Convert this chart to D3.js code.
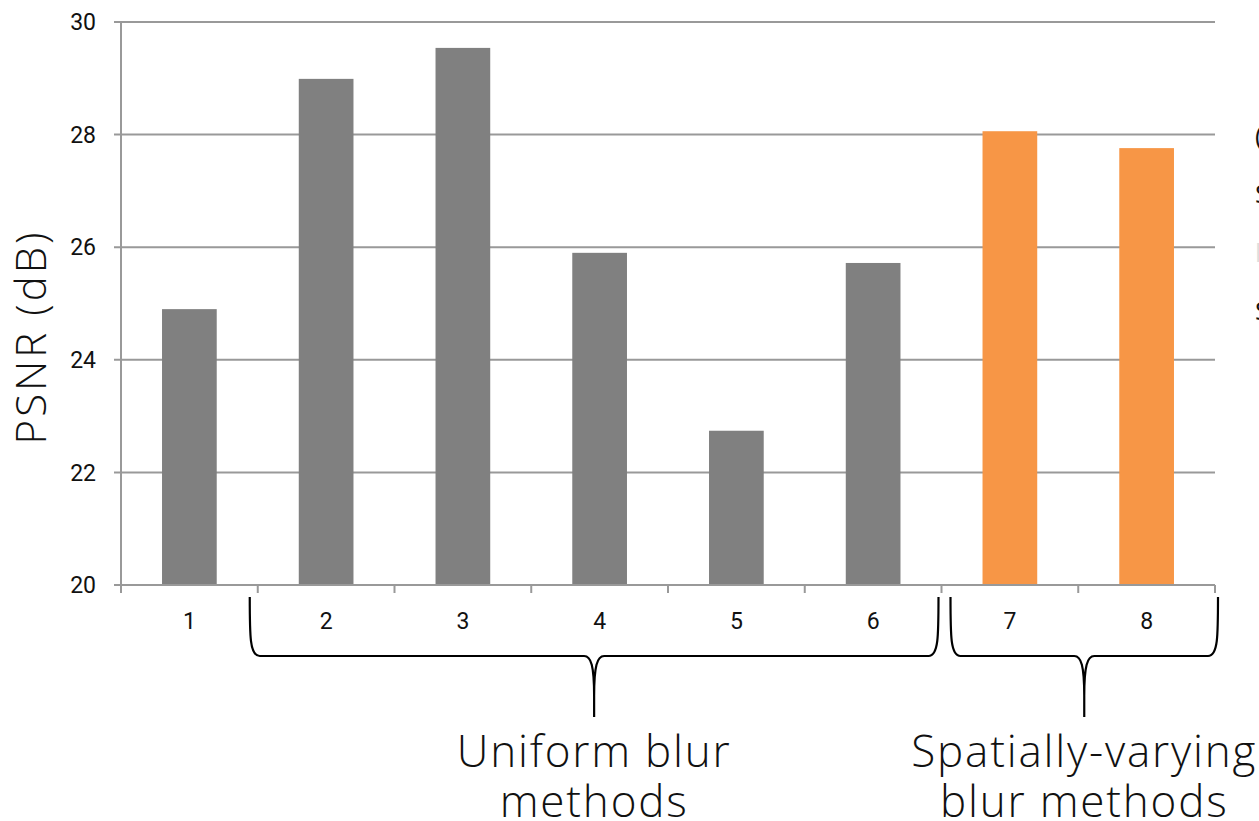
<!DOCTYPE html>
<html>
<head>
<meta charset="utf-8">
<script src="https://cdn.jsdelivr.net/npm/d3@7/dist/d3.min.js"></script>
<style>
  html, body { margin: 0; padding: 0; background: #fff; }
  svg { display: block; }
</style>
</head>
<body>
<svg id="chart" width="1259" height="821"></svg>
<script>
const categories = ["1", "2", "3", "4", "5", "6", "7", "8"];
const psnr = [24.90, 28.99, 29.54, 25.90, 22.74, 25.72, 28.06, 27.76];
const groups = ["uniform", "uniform", "uniform", "uniform", "uniform", "uniform", "varying", "varying"];
const yTicks = [20, 22, 24, 26, 28, 30];
const yLabel = "PSNR (dB)";
const braceGroups = [
  { from: "2", to: "6", lines: ["Uniform blur", "methods"] },
  { from: "7", to: "8", lines: ["Spatially-varying", "blur methods"] }
];
const edgeText = ["(", "S", "l", "S"];

const svg = d3.select("#chart");
const m = { left: 121, right: 1215, top: 22, bottom: 585 };

const x = d3.scaleBand().domain(categories).range([m.left, m.right]).paddingInner(0.6).paddingOuter(0.3);
const xb = d3.scaleBand().domain(categories).range([m.left, m.right]);
const y = d3.scaleLinear().domain([20, 30]).range([m.bottom, m.top]);
const color = d3.scaleOrdinal().domain(["uniform", "varying"]).range(["#808080", "#F79646"]);

// gridlines
svg.append("g").selectAll("line").data(yTicks).join("line")
  .attr("x1", m.left - 7).attr("x2", m.right)
  .attr("y1", d => y(d)).attr("y2", d => y(d))
  .attr("stroke", "#999").attr("stroke-width", 2);

// bars
svg.append("g").selectAll("rect").data(categories).join("rect")
  .attr("x", d => x(d)).attr("width", x.bandwidth())
  .attr("y", (d, i) => y(psnr[i])).attr("height", (d, i) => y(20) - y(psnr[i]))
  .attr("fill", (d, i) => color(groups[i]));

// y axis line
svg.append("line").attr("x1", m.left).attr("x2", m.left)
  .attr("y1", m.top).attr("y2", m.bottom + 8)
  .attr("stroke", "#999").attr("stroke-width", 2);
// x axis line
svg.append("line").attr("x1", m.left - 7).attr("x2", m.right)
  .attr("y1", m.bottom).attr("y2", m.bottom)
  .attr("stroke", "#999").attr("stroke-width", 2);
// x ticks at band boundaries
const bounds = categories.map(c => xb(c)).concat([m.right]);
svg.append("g").selectAll("line").data(bounds).join("line")
  .attr("x1", d => d).attr("x2", d => d)
  .attr("y1", m.bottom).attr("y2", m.bottom + 8)
  .attr("stroke", "#999").attr("stroke-width", 2);

// y tick labels
svg.append("g").selectAll("text").data(yTicks).join("text")
  .attr("x", 96).attr("y", d => y(d)).attr("dy", "0.36em")
  .attr("text-anchor", "end")
  .attr("font-family", "Roboto, sans-serif").attr("font-size", 23).attr("fill", "#111")
  .text(d => d);

// x tick labels
svg.append("g").selectAll("text").data(categories).join("text")
  .attr("x", d => xb(d) + xb.bandwidth() / 2).attr("y", 621).attr("dy", "0.36em")
  .attr("text-anchor", "middle")
  .attr("font-family", "Roboto, sans-serif").attr("font-size", 23).attr("fill", "#111")
  .text(d => d);

// y label
svg.append("text")
  .attr("transform", `translate(46,337) rotate(-90)`)
  .attr("text-anchor", "middle")
  .attr("font-family", "'Open Sans', sans-serif").attr("font-weight", 300)
  .attr("font-size", 42).attr("letter-spacing", 3).attr("fill", "#111")
  .text(yLabel);

// braces
function bracePath(x0, x1, yTop, yH, yTip) {
  const xm = (x0 + x1) / 2;
  const r = 10;
  return `M${x0},${yTop} C${x0},${yH - 20} ${x0},${yH} ${x0 + r},${yH}` +
    ` L${xm - r},${yH} C${xm - 3},${yH} ${xm},${yH + 10} ${xm},${yH + 40} L${xm},${yTip}` +
    ` M${xm},${yH + 40} C${xm},${yH + 10} ${xm + 3},${yH} ${xm + r},${yH}` +
    ` L${x1 - r},${yH} C${x1},${yH} ${x1},${yH - 20} ${x1},${yTop}`;
}
braceGroups.forEach(g => {
  const x0 = xb(g.from) - 8 + (g.from === "2" ? 0 : 17);
  const x1 = xb(g.to) + xb.bandwidth() + (g.to === "8" ? 3 : -3);
  svg.append("path").attr("d", bracePath(x0, x1, 597, 656, 717))
    .attr("fill", "none").attr("stroke", "#000").attr("stroke-width", 2.2);
  const xm = (x0 + x1) / 2;
  g.lines.forEach((t, i) => {
    svg.append("text").attr("x", xm).attr("y", 767 + i * 50)
      .attr("text-anchor", "middle")
      .attr("font-family", "'Open Sans', sans-serif").attr("font-weight", 300)
      .attr("font-size", 44).attr("letter-spacing", 1.8).attr("fill", "#111")
      .text(t);
  });
});

// partially visible text at the right edge
svg.append("g").selectAll("text").data(edgeText).join("text")
  .attr("x", 1255).attr("y", (d, i) => [145, 203, 262, 320][i])
  .attr("font-family", "'Open Sans', sans-serif").attr("font-size", 26)
  .attr("fill", (d, i) => i === 2 ? "#ddd" : "#111")
  .text(d => d);
</script>
</body>
</html>
